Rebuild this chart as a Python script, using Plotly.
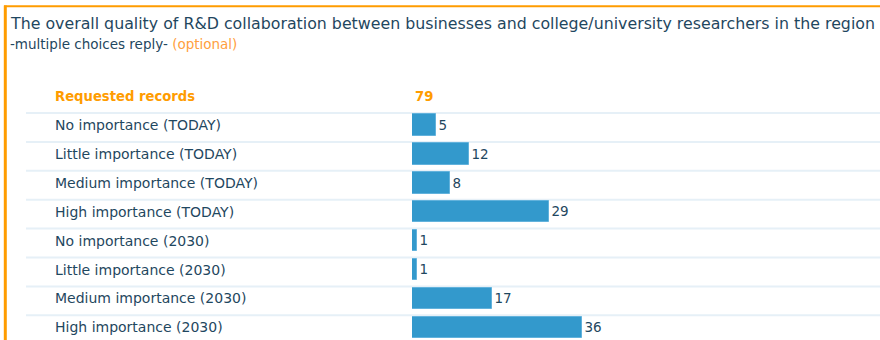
import plotly.graph_objects as go

# Survey results: number of replies per answer
categories = [
    "No importance (TODAY)",
    "Little importance (TODAY)",
    "Medium importance (TODAY)",
    "High importance (TODAY)",
    "No importance (2030)",
    "Little importance (2030)",
    "Medium importance (2030)",
    "High importance (2030)",
]
counts = [5, 12, 8, 29, 1, 1, 17, 36]
requested_label = "Requested records"
requested_total = 79

title_text = "The overall quality of R&D collaboration between businesses and college/university researchers in the region"
subtitle_text = "-multiple choices reply-"
optional_text = "(optional)"

W, H = 880, 340
FONT = "DejaVu Sans"
DARK = "#1f4760"
ORANGE = "#ff9c00"
ROW = 28.9          # pixel height of a row
FIRST = 125.0       # pixel centre of the first bar
BAR_LEFT = 412.0    # pixel where the value axis starts
PX_PER_UNIT = 4.72

n = len(categories)
y_top = -FIRST / ROW
y_bot = (H - FIRST) / ROW

fig = go.Figure(
    go.Bar(
        x=counts,
        y=categories,
        orientation="h",
        width=21.5 / ROW,
        marker=dict(color="#3399cc", line=dict(color="#62b2dc", width=1)),
        text=counts,
        textposition="outside",
        textfont=dict(family=FONT, size=13.5, color=DARK),
        cliponaxis=False,
        hoverinfo="skip",
    )
)

shapes = []
# light row separators
for i in range(n):
    y = i - 12 / ROW
    shapes.append(dict(type="line", xref="paper", yref="y", x0=26 / W, x1=1,
                       y0=y, y1=y, line=dict(color="#e6f0f7", width=2), layer="below"))
# orange frame (top and left edges)
shapes.append(dict(type="line", xref="paper", yref="paper", x0=4 / W, x1=1,
                   y0=1 - 6.3 / H, y1=1 - 6.3 / H, line=dict(color=ORANGE, width=2)))
shapes.append(dict(type="line", xref="paper", yref="paper", x0=5.3 / W, x1=5.3 / W,
                   y0=0, y1=1 - 5.5 / H, line=dict(color=ORANGE, width=3)))

annotations = []
for i, c in enumerate(categories):
    annotations.append(dict(text=c, xref="paper", yref="y", x=53 / W, y=i,
                            xanchor="left", yanchor="middle", showarrow=False,
                            font=dict(family=FONT, size=14, color=DARK)))
annotations += [
    dict(text=f"<b>{requested_label}</b>", xref="paper", yref="y", x=53 / W, y=-1,
         xanchor="left", yanchor="middle", showarrow=False,
         font=dict(family=FONT, size=13.2, color=ORANGE)),
    dict(text=f"<b>{requested_total}</b>", xref="paper", yref="y", x=413 / W, y=-1,
         xanchor="left", yanchor="middle", showarrow=False,
         font=dict(family=FONT, size=13.2, color=ORANGE)),
    dict(text=title_text, xref="paper", yref="paper", x=8 / W, y=1 - 24 / H,
         xanchor="left", yanchor="middle", showarrow=False,
         font=dict(family=FONT, size=15.8, color=DARK)),
    dict(text=f"{subtitle_text} <span style='color:#ffa040'>{optional_text}</span>",
         xref="paper", yref="paper", x=8 / W, y=1 - 44 / H,
         xanchor="left", yanchor="middle", showarrow=False,
         font=dict(family=FONT, size=13.5, color=DARK)),
]

fig.update_layout(
    width=W, height=H,
    margin=dict(l=0, r=0, t=0, b=0),
    paper_bgcolor="white", plot_bgcolor="white",
    showlegend=False,
    bargap=0,
    xaxis=dict(domain=[BAR_LEFT / W, 1], range=[0, (W - BAR_LEFT) / PX_PER_UNIT],
               visible=False, fixedrange=True),
    yaxis=dict(range=[y_bot, y_top], visible=False, fixedrange=True,
               categoryorder="array", categoryarray=categories),
    shapes=shapes,
    annotations=annotations,
)

fig.write_html("out.html")
